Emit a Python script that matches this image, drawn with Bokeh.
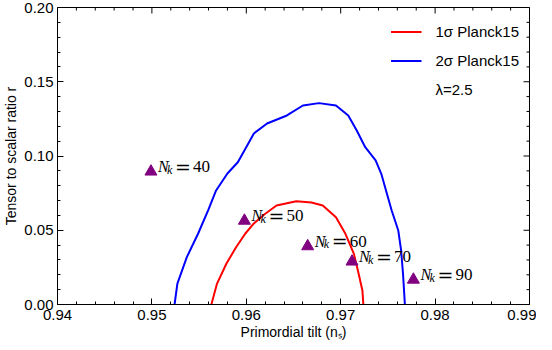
import math
from bokeh.plotting import figure
from bokeh.models import (FixedTicker, PrintfTickFormatter, Legend,
                          LegendItem, ColumnDataSource, Range1d)
from bokeh.core.properties import value
from bokeh.embed import file_html
from bokeh.resources import INLINE

# 1-sigma Planck15 contour (ns, r)
sigma1_ns = [0.9563, 0.9569, 0.9579, 0.9589, 0.9599, 0.9608, 0.9619, 0.9632, 0.9653,
             0.9669, 0.9681, 0.9695, 0.9705, 0.9714, 0.9719, 0.9723, 0.9724]
sigma1_r = [0.0, 0.0141, 0.0276, 0.0384, 0.0478, 0.0546, 0.0606, 0.0667, 0.0695,
            0.0687, 0.0667, 0.0588, 0.0476, 0.0341, 0.0207, 0.0094, 0.0]

# 2-sigma Planck15 contour (ns, r)
sigma2_ns = [0.9524, 0.9527, 0.9537, 0.9549, 0.9560, 0.9568, 0.9580, 0.9591, 0.9598,
             0.9608, 0.9622, 0.9643, 0.9660, 0.9677, 0.9695, 0.9708, 0.9717, 0.9726,
             0.9737, 0.9743, 0.9748, 0.9754, 0.9761, 0.9764, 0.9766, 0.9768]
sigma2_r = [0.0, 0.0141, 0.0319, 0.0478, 0.0640, 0.0768, 0.0882, 0.0958, 0.1037,
            0.1152, 0.1219, 0.1273, 0.1340, 0.1356, 0.1340, 0.1273, 0.1172, 0.1059,
            0.0970, 0.0880, 0.0768, 0.0633, 0.0498, 0.0364, 0.0209, 0.0]

# model predictions for lambda = 2.5
nk_ns = [0.9499, 0.9598, 0.9665, 0.9712, 0.9777]
nk_r = [0.0895, 0.0564, 0.0392, 0.0289, 0.0167]
nk_values = ["40", "50", "60", "70", "90"]

x_ticks = [0.94, 0.95, 0.96, 0.97, 0.98, 0.99]
y_ticks = [0.00, 0.05, 0.10, 0.15, 0.20]
n_sub = 5

def minor_of(ticks):
    out = []
    for a, b in zip(ticks[:-1], ticks[1:]):
        for i in range(1, n_sub):
            out.append(a + (b - a) * i / n_sub)
    return out

x_minor = minor_of(x_ticks)
y_minor = minor_of(y_ticks)

SANS = "Liberation Sans"
SERIF = "Liberation Serif"

x0, x1 = x_ticks[0], x_ticks[-1]
y0, y1 = y_ticks[0], y_ticks[-1]

p = figure(width=536, height=342, x_range=Range1d(x0, x1), y_range=Range1d(y0, y1),
           output_backend="svg", toolbar_location=None,
           min_border_left=49, min_border_right=7, min_border_top=7, min_border_bottom=38)
p.grid.visible = False
p.outline_line_color = "black"
p.outline_line_width = 1
p.background_fill_color = "white"
p.border_fill_color = "white"

xt = FixedTicker(ticks=x_ticks, minor_ticks=x_minor)
yt = FixedTicker(ticks=y_ticks, minor_ticks=y_minor)

for ax, tk in ((p.xaxis[0], xt), (p.yaxis[0], yt)):
    ax.ticker = tk
    ax.formatter = PrintfTickFormatter(format="%.2f")
    ax.axis_line_color = "black"
    ax.major_tick_line_color = "black"
    ax.minor_tick_line_color = "black"
    ax.major_tick_in = 6
    ax.major_tick_out = 0
    ax.minor_tick_in = 3
    ax.minor_tick_out = 0
    ax.major_label_text_font = SANS
    ax.major_label_text_color = "black"
    ax.major_label_text_font_size = "15px"
    ax.axis_label_text_font = SANS
    ax.axis_label_text_font_size = "14px"
    ax.axis_label_text_font_style = "normal"
    ax.axis_label_text_color = "black"

p.xaxis[0].axis_label = "Primordial tilt (nₛ)"
p.yaxis[0].axis_label = "Tensor to scalar ratio r"
p.xaxis[0].major_label_standoff = 5
p.yaxis[0].major_label_standoff = 4
p.xaxis[0].axis_label_standoff = 1
p.yaxis[0].axis_label_standoff = 2

# mirrored inward ticks on the top and right frame edges
p.scatter(x=x_ticks, y=[y1] * len(x_ticks), marker="dash", angle=math.pi / 2,
          size=12, line_color="black", line_width=1)
p.scatter(x=x_minor, y=[y1] * len(x_minor), marker="dash", angle=math.pi / 2,
          size=6, line_color="black", line_width=1)
p.scatter(x=[x1] * len(y_ticks), y=y_ticks, marker="dash",
          size=12, line_color="black", line_width=1)
p.scatter(x=[x1] * len(y_minor), y=y_minor, marker="dash",
          size=6, line_color="black", line_width=1)

r1 = p.line(sigma1_ns, sigma1_r, line_color="#ff0000", line_width=2, line_join="round")
r2 = p.line(sigma2_ns, sigma2_r, line_color="#0000ff", line_width=2, line_join="round")
r3 = p.line(x=[], y=[], line_alpha=0)

src = ColumnDataSource(dict(ns=nk_ns, r=nk_r, nk=nk_values))
p.scatter("ns", "r", source=src, marker="triangle", size=12, color="#800080")
p.text("ns", "r", text=value("N"), source=src, x_offset=7, y_offset=-5,
       text_font=value(SERIF), text_font_style="italic", text_font_size="16px",
       text_baseline="alphabetic", text_color="black")
p.text("ns", "r", text=value("k"), source=src, x_offset=16, y_offset=-2,
       text_font=value(SERIF), text_font_style="italic", text_font_size="12px",
       text_baseline="alphabetic", text_color="black")
p.text("ns", "r", text=value("="), source=src, x_offset=24, y_offset=-5,
       text_font=value("DejaVu Serif"), text_font_size="19px",
       text_baseline="alphabetic", text_color="black")
p.text("ns", "r", text="nk", source=src, x_offset=42, y_offset=-5,
       text_font=value(SERIF), text_font_size="17px",
       text_baseline="alphabetic", text_color="black")

legend = Legend(items=[LegendItem(label="1σ Planck15", renderers=[r1]),
                       LegendItem(label="2σ Planck15", renderers=[r2]),
                       LegendItem(label="λ=2.5", renderers=[r3])],
                location="top_right", padding=0, margin=10, spacing=0,
                glyph_width=31, glyph_height=29, label_height=29, label_standoff=14,
                border_line_alpha=0, background_fill_alpha=0,
                label_text_font=SANS, label_text_font_size="15px", label_text_color="black")
p.add_layout(legend)

open("out.html", "w").write(file_html(p, INLINE))
